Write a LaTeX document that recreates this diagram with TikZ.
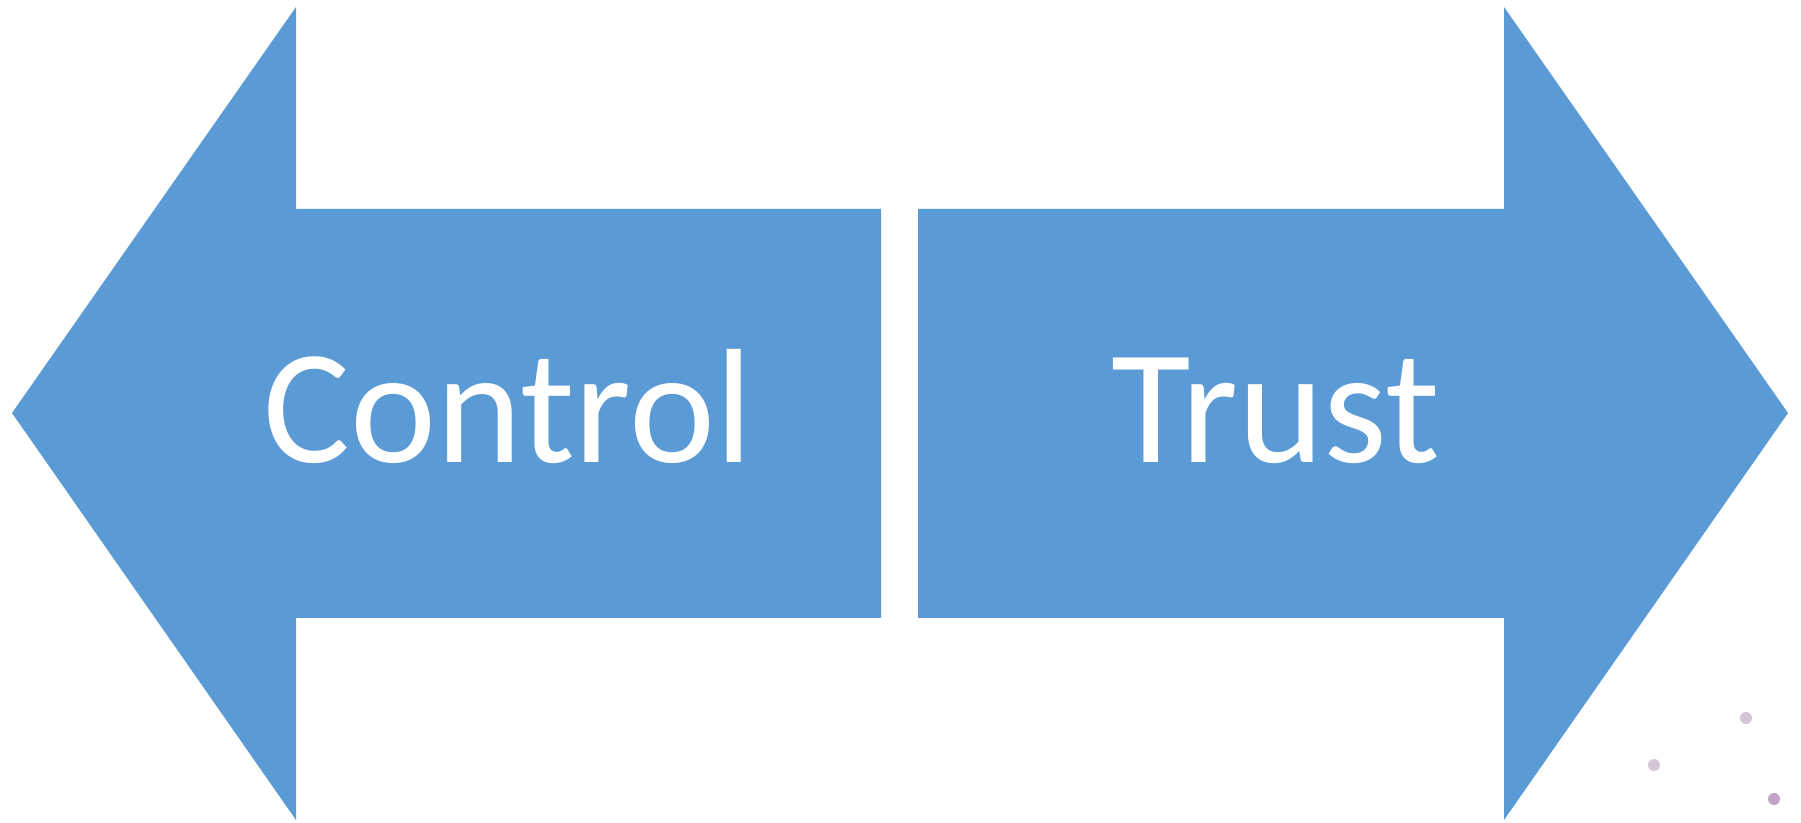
\documentclass[tikz,border=0pt]{standalone}
\usepackage{fontspec}
\setmainfont{Carlito}
\usetikzlibrary{positioning}
\definecolor{arrowblue}{HTML}{5B9BD5}
\definecolor{dotpale}{RGB}{214,196,216}
\definecolor{dotdark}{RGB}{194,164,196}
\tikzset{
  word/.style={text=white, anchor=base, inner sep=0pt, font=\fontsize{81.5}{98}\selectfont},
  dot/.style={circle, inner sep=0pt, minimum size=6pt}
}
\begin{document}
\begin{tikzpicture}[x=0.5pt,y=-0.5pt]
  \useasboundingbox (0,0) rectangle (1801,823);
  \fill [arrowblue] (12,413) -- (296,7) -- (296,209) -- (881,209) -- (881,618) -- (296,618) -- (296,820) -- cycle;
  \fill [arrowblue] (1788,413) -- (1504,7) -- (1504,209) -- (918,209) -- (918,618) -- (1504,618) -- (1504,820) -- cycle;

  \node (control) [word] at (508,463) {Control};
  \node (trust) [word] at (1276,463) {Trust};

  \node (dotA) [dot, fill=dotpale] at (1746,718) {};
  \node (dotB) [dot, fill=dotpale] at (1654,765) {};
  \node (dotC) [dot, fill=dotdark] at (1774,799) {};
\end{tikzpicture}
\end{document}
